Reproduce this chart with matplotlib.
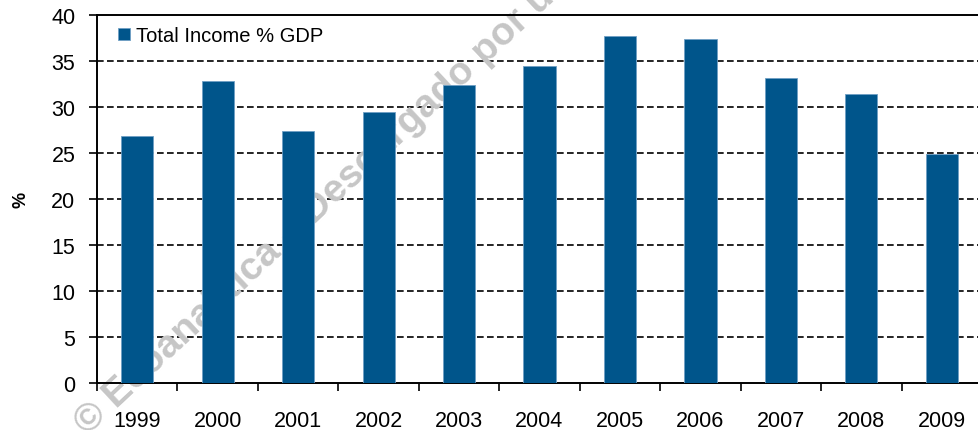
import matplotlib
matplotlib.use("Agg")
import matplotlib.pyplot as plt
from matplotlib.ticker import FixedLocator

years = ["1999", "2000", "2001", "2002", "2003", "2004",
         "2005", "2006", "2007", "2008", "2009"]
income_pct_gdp = [26.8, 32.8, 27.4, 29.5, 32.4, 34.5, 37.7, 37.4, 33.1, 31.4, 24.9]
y_ticks = [0, 5, 10, 15, 20, 25, 30, 35, 40]

BAR = "#00558b"
plt.rcParams["font.family"] = ["Liberation Sans", "DejaVu Sans"]

fig = plt.figure(figsize=(9.79, 4.31), dpi=100)
ax = fig.add_axes([97 / 979, 1 - 384 / 431, 885 / 979, 368 / 431])

x = list(range(len(years)))
ax.bar(x, income_pct_gdp, width=0.4, color=BAR, edgecolor="#6f9fc4",
       linewidth=0.6, label="Total Income % GDP", zorder=3)

ax.set_xlim(-0.5, len(years) - 0.5)
ax.set_ylim(0, 40)
ax.set_yticks(y_ticks)
for v in y_ticks[1:-1]:
    ax.axhline(v, color="black", lw=1.2, ls=(0, (4, 2)), zorder=1)

# boundary ticks without labels, labels at bar centres
ax.xaxis.set_major_locator(FixedLocator([i - 0.5 for i in range(len(years) + 1)]))
ax.xaxis.set_major_formatter(plt.NullFormatter())
ax.set_xticks(x, years, minor=True)
ax.tick_params(axis="x", which="major", length=6, width=1.2, direction="out")
ax.tick_params(axis="x", which="minor", length=0, pad=19.5, labelsize=15.5)
ax.tick_params(axis="y", length=6, width=1.2, direction="out", pad=9.5, labelsize=15.5)

for s in ["left", "bottom", "top"]:
    ax.spines[s].set_linewidth(1.4)
ax.spines["right"].set_visible(False)

ax.set_ylabel("%", fontweight="bold", fontsize=13)
ax.yaxis.set_label_coords(-0.076, 0.5)

ax.legend(loc="upper left", bbox_to_anchor=(0.024, 0.97), frameon=False,
          fontsize=14.5, handlelength=0.6, handleheight=0.6,
          handletextpad=0.3, borderpad=0, borderaxespad=0)

# faint diagonal watermark, behind the bars
ax.text(0.095, -0.025, "© Ecoanalítica – Descargado por usuario",
        transform=fig.transFigure, clip_on=False,
        rotation=43, rotation_mode="anchor", ha="left", va="bottom",
        fontsize=28, fontweight="bold", color="#c6c6c6", zorder=2)

fig.savefig("out.png", dpi=100)
